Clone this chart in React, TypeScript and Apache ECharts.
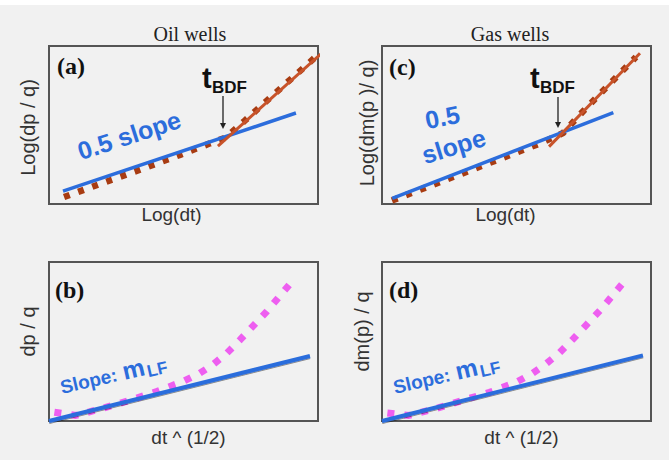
import React, { useEffect, useRef } from "react";
import * as echarts from "echarts";

// Panel order: 0 = (a) oil log-log, 1 = (c) gas log-log, 2 = (b) oil sqrt-time, 3 = (d) gas sqrt-time
const panelTags = ["(a)", "(c)", "(b)", "(d)"];
const columnTitles = ["Oil wells", "Gas wells"];
const xAxisNames = ["Log(dt)", "Log(dt)", "dt ^ (1/2)", "dt ^ (1/2)"];
const yAxisNames = ["Log(dp / q)", "Log(dm(p )/ q)", "dp / q", "dm(p) / q"];

// (a) oil, log-log diagnostic
const oilLogHalfSlope = [[0.52, 0.82], [9.18, 5.76]];
const oilLogBoundary = [[6.28, 3.67], [10.15, 9.56]];
const oilLogMeasured = [
  [0.56, 0.44], [1.9, 1.27], [3.38, 2.17], [4.87, 3.11], [5.99, 3.84], [6.58, 4.21],
  [7.29, 5.29], [8.03, 6.43], [8.77, 7.57], [9.52, 8.71], [9.93, 9.34],
];

// (c) gas, log-log diagnostic
const gasLogHalfSlope = [[0.38, 0.36], [8.6, 5.78]];
const gasLogBoundary = [[6.21, 3.63], [9.59, 9.54]];
const gasLogMeasured = [
  [0.37, 0.22], [1.78, 1.14], [3.27, 2.12], [4.76, 3.1], [5.87, 3.83], [6.73, 4.49],
  [7.36, 5.66], [8.1, 6.96], [8.85, 8.27], [9.44, 9.3],
];

// (b) oil, square-root-of-time plot
const oilSqrtLinear = [[0, 0], [9.7, 4.09]];
const oilSqrtMeasured = [
  [0.2, 0.55], [1.0, 0.35], [2.0, 0.8], [3.0, 1.3], [4.0, 1.85], [5.0, 2.5], [5.6, 3.0],
  [6.1, 3.55], [6.6, 4.25], [7.1, 5.1], [7.6, 6.0], [8.1, 6.9], [8.55, 7.8], [9.0, 8.7],
];

// (d) gas, square-root-of-time plot
const gasSqrtLinear = [[0, 0], [9.7, 4.13]];
const gasSqrtMeasured = [
  [0.2, 0.5], [1.0, 0.35], [2.0, 0.78], [3.0, 1.3], [4.0, 1.8], [5.0, 2.45], [5.6, 3.0],
  [6.1, 3.6], [6.6, 4.3], [7.1, 5.15], [7.6, 6.05], [8.1, 6.95], [8.55, 7.85], [8.98, 8.72],
];

const BLUE = "#2c6ddc";
const RED = "#c8532a";
const BROWN = "#a83c12";
const PINK = "#ee5ef0";
const SANS = "'Liberation Sans', Arial, sans-serif";
const SERIF = "'Liberation Serif', 'Times New Roman', serif";

const grids = [
  { left: 49, top: 46, width: 269, height: 158 },
  { left: 382, top: 46, width: 269, height: 158 },
  { left: 49, top: 262, width: 269, height: 159 },
  { left: 382, top: 262, width: 269, height: 159 },
];

const xNameGaps = [1, 1, 7, 7];
const xNamePads = [[0, 24, 0, 0], [0, 22, 0, 0], [0, 0, 0, 10], [0, 0, 0, 10]];
const yNameGaps = [11, 5, 11, 10];
const yNamePads = [[0, 5, 0, 0], [0, 0, 0, 4], [0, 0, 0, 20], [0, 0, 0, 20]];

const deg = (d: number) => (d * Math.PI) / 180;

function line(idx: number, data: number[][], color: string, width: number, z: number, dash?: number[] | string, extra: any = {}) {
  return {
    type: "line",
    xAxisIndex: idx,
    yAxisIndex: idx,
    data,
    showSymbol: false,
    symbol: "none",
    clip: false,
    silent: true,
    z,
    lineStyle: { color, width, type: dash || "solid", cap: "butt", ...extra },
  };
}

function tBdf(x: number, y: number, arrowX: number, arrowTop: number, arrowTip: number) {
  return [
    { type: "text", x, y, style: { text: "t", font: `bold 29px ${SANS}`, fill: "#111", verticalAlign: "middle", align: "left" } },
    { type: "text", x: x + 10, y: y + 9, style: { text: "BDF", font: `bold 17px ${SANS}`, fill: "#111", verticalAlign: "middle", align: "left" } },
    { type: "line", shape: { x1: arrowX, y1: arrowTop, x2: arrowX, y2: arrowTip - 5 }, style: { stroke: "#222", lineWidth: 1.3 } },
    { type: "polygon", shape: { points: [[arrowX - 3, arrowTip - 6], [arrowX + 3, arrowTip - 6], [arrowX, arrowTip]] }, style: { fill: "#222" } },
  ];
}

function slopeMLF(x: number, y: number) {
  return {
    type: "group",
    x,
    y,
    rotation: deg(13),
    children: [
      { type: "text", x: 0, y: -6.6, style: { text: "Slope:", font: `bold 19px ${SANS}`, fill: BLUE, verticalAlign: "middle", align: "left" } },
      { type: "text", x: 64, y: -8.5, style: { text: "m", font: `bold 25px ${SANS}`, fill: BLUE, verticalAlign: "middle", align: "left" } },
      { type: "text", x: 88, y: -2.5, style: { text: "LF", font: `bold 17px ${SANS}`, fill: BLUE, verticalAlign: "middle", align: "left" } },
    ],
  };
}

export default function App() {
  const ref = useRef<HTMLDivElement>(null);

  useEffect(() => {
    document.body.style.margin = "0";
    document.body.style.background = "#f1f1f1";
    if (!ref.current) return;
    const chart = echarts.init(ref.current, undefined, { renderer: "svg" });

    const xAxis = grids.map((_, i) => ({
      type: "value",
      gridIndex: i,
      min: 0,
      max: 10,
      axisLine: { show: false },
      axisTick: { show: false },
      axisLabel: { show: false },
      splitLine: { show: false },
      name: xAxisNames[i],
      nameLocation: "middle",
      nameGap: xNameGaps[i],
      nameTextStyle: { fontFamily: SANS, fontSize: 19, color: "#333", padding: xNamePads[i] },
    }));
    const yAxis = grids.map((_, i) => ({
      type: "value",
      gridIndex: i,
      min: 0,
      max: 10,
      axisLine: { show: false },
      axisTick: { show: false },
      axisLabel: { show: false },
      splitLine: { show: false },
      name: yAxisNames[i],
      nameLocation: "middle",
      nameGap: yNameGaps[i],
      nameTextStyle: { fontFamily: SANS, fontSize: 20, color: "#333", padding: yNamePads[i] },
    }));

    const series = [
      line(0, oilLogMeasured, BROWN, 6.5, 1, [6, 9]),
      line(0, oilLogHalfSlope, BLUE, 3.5, 2),
      line(0, oilLogBoundary, RED, 3, 3),
      line(1, gasLogMeasured, BROWN, 6.5, 1, [6, 9]),
      line(1, gasLogHalfSlope, BLUE, 3.5, 2),
      line(1, gasLogBoundary, RED, 3, 3),
      line(2, oilSqrtMeasured, PINK, 7, 1, [7, 10]),
      line(2, oilSqrtLinear, BLUE, 4, 2, undefined, { shadowColor: "rgba(0,0,0,0.45)", shadowBlur: 1, shadowOffsetY: 1 }),
      line(3, gasSqrtMeasured, PINK, 7, 1, [7, 10]),
      line(3, gasSqrtLinear, BLUE, 4, 2, undefined, { shadowColor: "rgba(0,0,0,0.45)", shadowBlur: 1, shadowOffsetY: 1 }),
    ];

    const tagPos = [[57, 66], [389, 67], [55, 290], [389, 290]];

    const graphic: any[] = [
      { type: "rect", shape: { x: 0, y: 0, width: 669, height: 5 }, style: { fill: "#ffffff" }, z: -10 },
      ...panelTags.map((t, i) => ({
        type: "text",
        x: tagPos[i][0],
        y: tagPos[i][1],
        style: { text: t, font: `bold 24px ${SERIF}`, fill: "#111", verticalAlign: "middle", align: "left" },
      })),
      ...tBdf(202, 78, 223, 96, 129),
      ...tBdf(530, 78, 558, 97, 128),
      {
        type: "group",
        x: 81,
        y: 160,
        rotation: deg(18),
        children: [
          { type: "text", x: 0, y: -8.8, style: { text: "0.5 slope", font: `bold 25px ${SANS}`, fill: BLUE, verticalAlign: "middle", align: "left" } },
        ],
      },
      {
        type: "group",
        x: 427,
        y: 129,
        rotation: deg(11),
        children: [
          { type: "text", x: 0, y: -8.8, style: { text: "0.5", font: `bold 25px ${SANS}`, fill: BLUE, verticalAlign: "middle", align: "left" } },
        ],
      },
      {
        type: "group",
        x: 425,
        y: 164,
        rotation: deg(17),
        children: [
          { type: "text", x: 0, y: -8.8, style: { text: "slope", font: `bold 25px ${SANS}`, fill: BLUE, verticalAlign: "middle", align: "left" } },
        ],
      },
      slopeMLF(62, 394),
      slopeMLF(395, 394),
    ];

    chart.setOption({
      animation: false,
      backgroundColor: "#f1f1f1",
      title: columnTitles.map((t, i) => ({
        text: t,
        left: i === 0 ? 185 : 505,
        top: 19,
        textAlign: "center",
        textStyle: { fontFamily: SERIF, fontWeight: "normal", fontSize: 20, color: "#222" },
      })),
      grid: grids.map((g) => ({
        ...g,
        show: true,
        borderColor: "#555",
        borderWidth: 2,
        backgroundColor: "transparent",
      })),
      xAxis,
      yAxis,
      series,
      graphic,
    });

    return () => chart.dispose();
  }, []);

  return <div ref={ref} style={{ width: 669, height: 460 }} />;
}
